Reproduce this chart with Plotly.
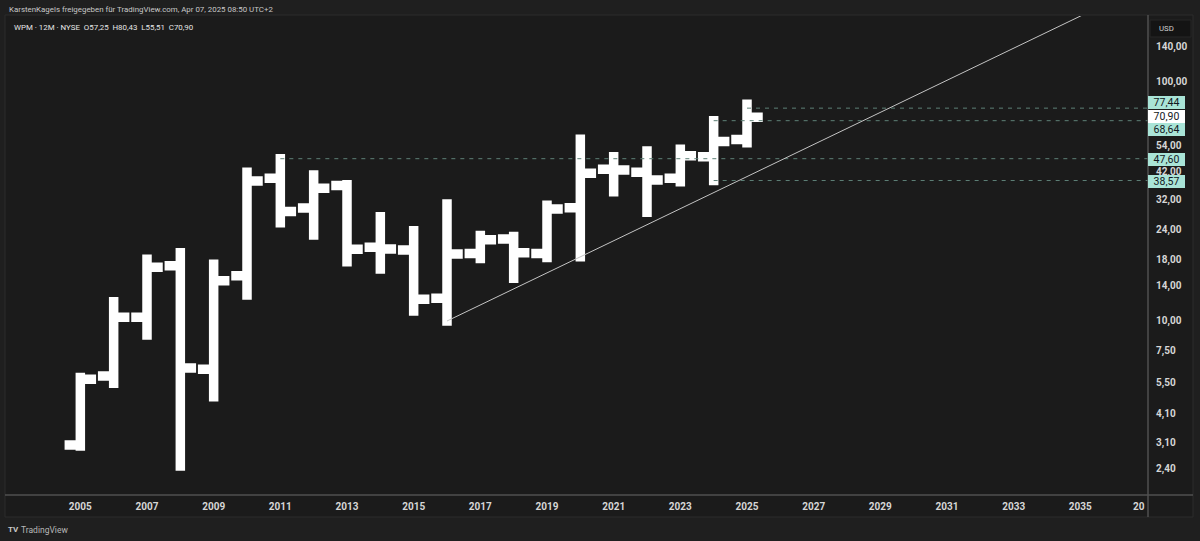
import math
import plotly.graph_objects as go

# ---------------- data ----------------
years = list(range(2005, 2026))
opens = [3.02, 5.87, 10.33, 16.97, 6.26, 15.43, 39.4, 29.6, 36.8, 20.28, 19.76,
         12.41, 19.1, 21.96, 19.1, 29.7, 43.0, 41.8, 39.4, 48.5, 57.25]
highs = [5.78, 12.01, 18.07, 19.25, 17.21, 41.76, 47.60, 40.7, 37.0, 27.2, 23.8,
         30.8, 22.7, 22.5, 30.4, 57.4, 48.5, 51.3, 52.1, 68.64, 80.43]
lows = [2.99, 5.47, 8.71, 2.47, 4.81, 12.81, 25.7, 22.8, 17.66, 16.45, 10.98,
        9.97, 18.2, 15.05, 18.4, 18.5, 34.6, 28.4, 38.1, 38.57, 55.51]
closes = [5.69, 10.33, 16.73, 6.34, 14.70, 38.40, 28.6, 35.8, 19.9, 19.95, 12.29,
          19.0, 21.8, 19.25, 29.3, 41.35, 42.7, 38.8, 48.97, 56.21, 70.90]

level_values = [77.44, 68.64, 47.60, 38.57]
level_start_years = [2025, 2024, 2011, 2024]
last_close_label = 70.90

trend_from_year = 2016
trend_through_year = 2020

x_tick_years = list(range(2005, 2036, 2))
x_tick_text = [str(y) for y in x_tick_years]
y_tick_vals = [2.4, 3.1, 4.1, 5.5, 7.5, 10, 14, 18, 24, 32, 42, 54, 100, 140]


def de_num(v):
    return f"{v:.2f}".replace(".", ",")


y_tick_text = [de_num(v) for v in y_tick_vals]

# ---------------- layout geometry ----------------
W, H = 1200, 541
PL, PR, PT, PB = 5, 1148, 16, 495
X_MIN, X_MAX = 2002.74, 2037.03
Y_LOG_MIN, Y_LOG_MAX = 0.271, 2.2744


def px_x(px):
    return (px - PL) / (PR - PL)


def px_y(py):
    return (PB - py) / (PB - PT)


BG = "#1b1b1b"
PAPER = "#1f1f1f"
TXT = "#d6d6d6"
FONT = "Roboto"
LEVEL_COLOR = "#5e8077"
BADGE = "#a9e4d7"

fig = go.Figure()

# horizontal dashed levels
for v, y0 in zip(level_values, level_start_years):
    fig.add_trace(go.Scatter(
        x=[y0, X_MAX], y=[v, v], mode="lines",
        line=dict(color=LEVEL_COLOR, width=1, dash="4px,5px"),
        hoverinfo="skip", showlegend=False, cliponaxis=True))

# trend line from 2016 low through 2020 low, extended
i0 = years.index(trend_from_year)
i1 = years.index(trend_through_year)
l0, l1 = lows[i0], lows[i1]
slope = (math.log10(l1) - math.log10(l0)) / (trend_through_year - trend_from_year)
x_end = X_MAX
y_end = 10 ** (math.log10(l0) + slope * (x_end - trend_from_year))
fig.add_trace(go.Scatter(
    x=[trend_from_year, x_end], y=[l0, y_end], mode="lines",
    line=dict(color="#c4c4c4", width=1),
    hoverinfo="skip", showlegend=False))

# OHLC bars
fig.add_trace(go.Ohlc(
    x=years, open=opens, high=highs, low=lows, close=closes,
    increasing=dict(line=dict(color="#ffffff", width=9.5)),
    decreasing=dict(line=dict(color="#ffffff", width=9.5)),
    tickwidth=0.33, hoverinfo="skip", showlegend=False))

shapes = [
    # chart frame
    dict(type="rect", xref="paper", yref="paper", layer="below",
         x0=px_x(5), x1=px_x(1193), y0=px_y(517), y1=px_y(15),
         fillcolor=BG, line=dict(color="#2c2c2c", width=1)),
    # time axis separator
    dict(type="line", xref="paper", yref="paper",
         x0=px_x(5), x1=px_x(1193), y0=px_y(495), y1=px_y(495),
         line=dict(color="#505050", width=1.5)),
    # price axis separator
    dict(type="line", xref="paper", yref="paper",
         x0=px_x(1148), x1=px_x(1148), y0=px_y(517), y1=px_y(15),
         line=dict(color="#505050", width=1.5)),
    # USD box
    dict(type="rect", xref="paper", yref="paper",
         x0=px_x(1150), x1=px_x(1191), y0=px_y(37), y1=px_y(20),
         fillcolor="#141414", line=dict(color="#262626", width=1)),
]

annotations = [
    dict(text="KarstenKagels freigegeben für TradingView.com, Apr 07, 2025 08:50 UTC+2",
         xref="paper", yref="paper", x=px_x(7), y=px_y(9.5), xanchor="left",
         yanchor="middle", showarrow=False, font=dict(family=FONT, size=7.9, color="#c8c8c8")),
    dict(text="WPM · 12M · NYSE\u00a0\u00a0O57,25\u00a0\u00a0H80,43\u00a0\u00a0L55,51\u00a0\u00a0C70,90",
         xref="paper", yref="paper", x=px_x(12), y=px_y(27), xanchor="left",
         yanchor="middle", showarrow=False, font=dict(family=FONT, size=7.9, color="#e6e6e6")),
    dict(text="USD", xref="paper", yref="paper", x=px_x(1157), y=px_y(28.5),
         xanchor="left", yanchor="middle", showarrow=False,
         font=dict(family=FONT, size=7.8, color="#cfcfcf")),
    dict(text="20", xref="paper", yref="paper", x=px_x(1147), y=px_y(506),
         xanchor="right", yanchor="middle", showarrow=False,
         font=dict(family=FONT, size=10, color=TXT, weight="bold")),
    dict(text="<b>TV</b>", xref="paper", yref="paper", x=px_x(6), y=px_y(529.5),
         xanchor="left", yanchor="middle", showarrow=False,
         font=dict(family=FONT, size=8, color="#c8c8c8")),
    dict(text="TradingView", xref="paper", yref="paper", x=px_x(19), y=px_y(529.5),
         xanchor="left", yanchor="middle", showarrow=False,
         font=dict(family=FONT, size=8.5, color="#b8b8b8")),
]

# price badges (shift = pixel offset used to avoid overlaps)
badge_values = [77.44, last_close_label, 68.64, 47.60, 38.57]
badge_colors = [BADGE, "#ffffff", BADGE, BADGE, BADGE]
badge_shift = [5.5, 1.0, -9.3, -0.6, -1.2]
for v, c, s in zip(badge_values, badge_colors, badge_shift):
    annotations.append(dict(
        text=de_num(v), xref="paper", yref="y", x=1.0, y=math.log10(v),
        yshift=s, xanchor="left", yanchor="middle", showarrow=False,
        bgcolor=c, borderwidth=0, borderpad=1.5, width=34, height=10,
        align="center", font=dict(family=FONT, size=10.5, color="#131722")))

fig.update_layout(
    width=W, height=H,
    margin=dict(l=PL, r=W - PR, t=PT, b=H - PB, pad=0),
    paper_bgcolor=PAPER, plot_bgcolor=BG,
    showlegend=False, shapes=shapes, annotations=annotations,
    xaxis=dict(range=[X_MIN, X_MAX], tickmode="array", tickvals=x_tick_years,
               ticktext=x_tick_text, showgrid=False, zeroline=False, showline=False,
               ticks="", ticklabelstandoff=4,
               tickfont=dict(family=FONT, size=10, color=TXT, weight="bold"),
               rangeslider=dict(visible=False), fixedrange=True),
    yaxis=dict(type="log", side="right", range=[Y_LOG_MIN, Y_LOG_MAX],
               tickmode="array", tickvals=y_tick_vals, ticktext=y_tick_text,
               showgrid=False, zeroline=False, showline=False, ticks="",
               ticklabelstandoff=7,
               tickfont=dict(family=FONT, size=10, color=TXT, weight="bold"),
               fixedrange=True),
)

post = """
document.body.style.margin='0';
document.querySelectorAll('.ohlclayer path, g.trace.ohlc path').forEach(function(p){
  p.style.strokeLinecap='square';
});
"""

fig.write_html("out.html", config={"displayModeBar": False, "responsive": False},
               post_script=post)
